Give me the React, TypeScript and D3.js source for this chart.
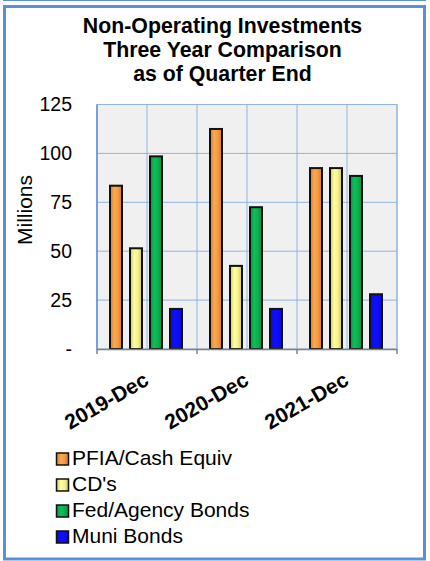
import React from 'react';
import * as d3 from 'd3';

// chart values
const categories = ['2019-Dec', '2020-Dec', '2021-Dec'];
const seriesNames = ['PFIA/Cash Equiv', "CD's", 'Fed/Agency Bonds', 'Muni Bonds'];
const pfiaValues = [84, 113, 93];
const cdValues = [52, 43, 93];
const fedValues = [99, 73, 89];
const muniValues = [21, 21, 28.5];
const yTicks = [0, 25, 50, 75, 100, 125];
const titleLines = ['Non-Operating Investments', 'Three Year Comparison', 'as of Quarter End'];

const seriesColors = ['#f79a45', '#f8f28e', '#0cb050', '#0d0dfa'];
const seriesValues = [pfiaValues, cdValues, fedValues, muniValues];

const FONT = '"Liberation Sans", Arial, sans-serif';

const App = () => {
  const width = 430;
  const height = 561;
  const plot = { left: 97, right: 397, top: 104.5, bottom: 349 };

  const xScale = d3.scaleBand<string>()
    .domain(categories)
    .range([plot.left, plot.right])
    .padding(0);

  const x1 = d3.scaleBand<number>()
    .domain(d3.range(seriesNames.length))
    .range([12, 86])
    .paddingInner(0.3)
    .paddingOuter(0);

  const yScale = d3.scaleLinear()
    .domain([0, 125])
    .range([plot.bottom, plot.top]);

  const bw = xScale.bandwidth();
  const gridXs = categories.flatMap(c => [xScale(c)! + bw / 2, xScale(c)! + bw]);
  const tickXs = [plot.left, ...categories.map(c => xScale(c)! + bw)];

  return (
    <svg width={width} height={height} style={{ position: 'absolute', left: 0, top: 0, background: '#fff' }}>
      <defs>
        {seriesColors.map((c, i) => {
          const dark = d3.color(c)!.darker(0.6).formatHex();
          const light = d3.color(c)!.brighter(0.25).formatHex();
          return (
            <linearGradient key={i} id={`grad${i}`} x1="0" x2="1" y1="0" y2="0">
              <stop offset="0%" stopColor={dark} />
              <stop offset="35%" stopColor={light} />
              <stop offset="65%" stopColor={c} />
              <stop offset="100%" stopColor={dark} />
            </linearGradient>
          );
        })}
      </defs>

      {/* outer frame */}
      <line x1={3} x2={426} y1={0.5} y2={0.5} stroke="#5b8fd6" strokeWidth={1} />
      <rect x={4.5} y={6.5} width={420} height={552.5} fill="#fff" stroke="#5b8fd6" strokeWidth={3} />

      {/* title */}
      <text x={222.5} y={33} textAnchor="middle" fontFamily={FONT} fontWeight="bold" fontSize={21.3}>
        {titleLines.map((t, i) => (
          <tspan key={i} x={222.5} y={33 + i * 24}>{t}</tspan>
        ))}
      </text>

      {/* plot area */}
      <rect x={plot.left} y={plot.top} width={plot.right - plot.left} height={plot.bottom - plot.top}
        fill="#f0f0f0" stroke="#8db4e2" strokeWidth={1} />
      {yTicks.slice(1, -1).map(t => (
        <line key={t} x1={plot.left} x2={plot.right} y1={yScale(t)} y2={yScale(t)} stroke="#8db4e2" strokeWidth={1} />
      ))}
      {gridXs.map((x, i) => (
        <line key={i} x1={x} x2={x} y1={plot.top} y2={plot.bottom} stroke="#8db4e2" strokeWidth={1} />
      ))}
      <line x1={plot.left} x2={plot.left} y1={plot.top} y2={plot.bottom} stroke="#5b8fd6" strokeWidth={1.5} />

      {/* bars */}
      {categories.map((c, ci) => (
        <g key={c} transform={`translate(${xScale(c)},0)`}>
          {seriesValues.map((vals, si) => {
            const x = x1(si)!;
            const w = x1.bandwidth();
            const yTop = yScale(vals[ci]);
            return (
              <rect key={si} x={x + 1} y={yTop + 1} width={w - 2} height={plot.bottom - yTop - 1}
                fill={`url(#grad${si})`} stroke="#111" strokeWidth={2} />
            );
          })}
        </g>
      ))}

      {/* x axis */}
      <line x1={plot.left} x2={plot.right} y1={plot.bottom + 0.5} y2={plot.bottom + 0.5} stroke="#808080" strokeWidth={1.5} />
      {tickXs.map((x, i) => (
        <line key={i} x1={x} x2={x} y1={plot.bottom} y2={plot.bottom + 5} stroke="#808080" strokeWidth={1.5} />
      ))}
      {categories.map(c => {
        const cx = xScale(c)! + bw / 2 + 3;
        return (
          <text key={c} transform={`translate(${cx},384) rotate(-30)`} textAnchor="end"
            fontFamily={FONT} fontWeight="bold" fontSize={21}>{c}</text>
        );
      })}

      {/* y axis labels */}
      {yTicks.map(t => (
        <text key={t} x={72} y={yScale(t)} dy="0.35em" textAnchor="end" fontFamily={FONT} fontSize={19.5}>
          {t === 0 ? '-' : t}
        </text>
      ))}
      <text transform="translate(32,210) rotate(-90)" textAnchor="middle" fontFamily={FONT} fontSize={21}>Millions</text>

      {/* legend */}
      {seriesNames.map((name, i) => {
        const yBase = 465 + i * 26;
        return (
          <g key={name}>
            <rect x={56.5} y={yBase - 12} width={12} height={12} fill={`url(#grad${i})`} stroke="#111" strokeWidth={1.5} />
            <text x={72} y={yBase} fontFamily={FONT} fontSize={21}>{name}</text>
          </g>
        );
      })}
    </svg>
  );
};

export default App;
